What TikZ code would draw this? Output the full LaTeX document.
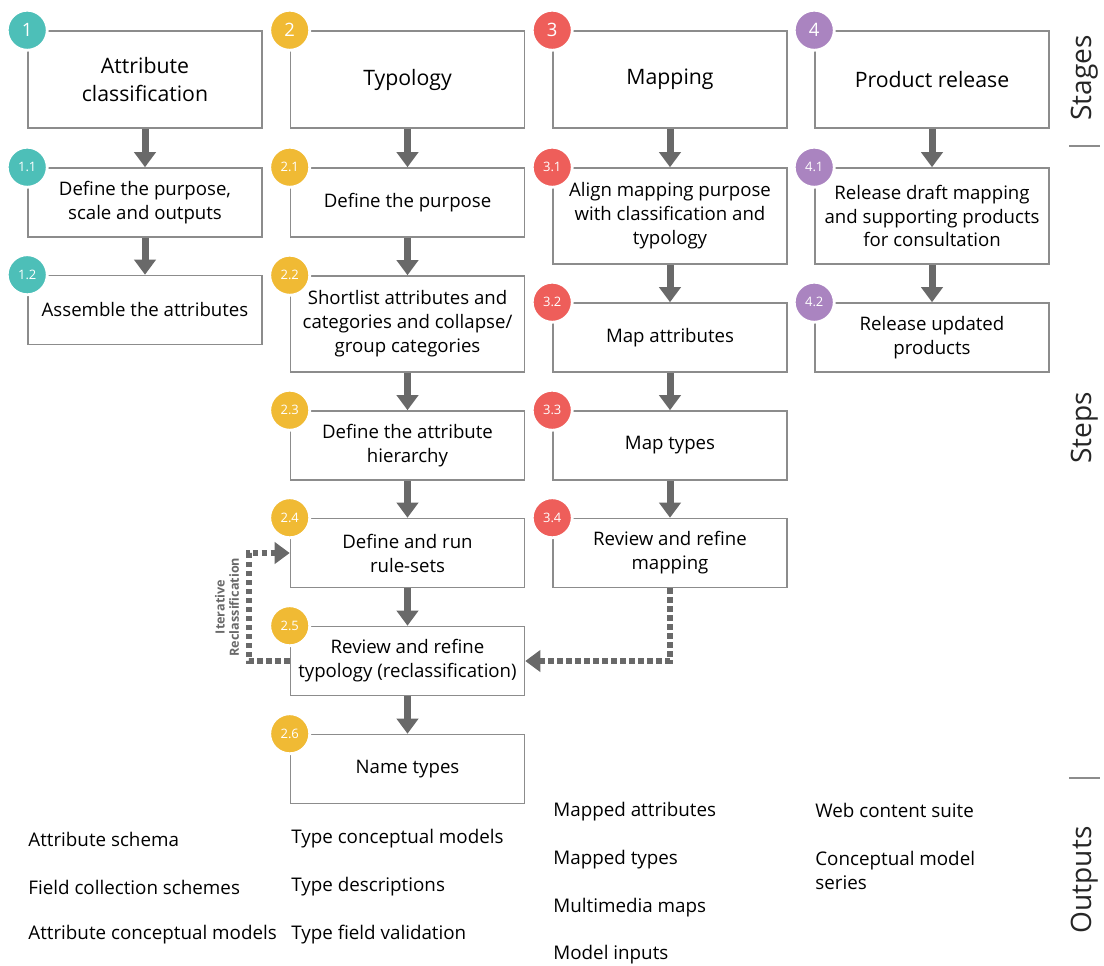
\documentclass[tikz,border=0pt]{standalone}
\usepackage{fontspec}
\setmainfont{Open Sans}
\usepackage{tikz}
\usetikzlibrary{arrows.meta, positioning}
\definecolor{clteal}{RGB}{77,191,184}
\definecolor{clyellow}{RGB}{240,186,52}
\definecolor{clred}{RGB}{238,94,90}
\definecolor{clpurple}{RGB}{170,132,192}
\definecolor{boxgray}{RGB}{140,140,140}
\definecolor{arrowgray}{RGB}{105,105,105}

\begin{document}
\begin{tikzpicture}[
    x=0.02cm, y=-0.02cm,
    stage node/.style={rectangle,draw=boxgray,line width=0.9pt,fill=white,minimum width=4.68cm,minimum height=1.94cm,align=center,font=\fontsize{12.1}{15.9}\selectfont},
    step node/.style={rectangle,draw=boxgray,line width=0.9pt,fill=white,minimum width=4.68cm,minimum height=1.38cm,align=center,font=\fontsize{10.6}{13.6}\selectfont},
    tall node/.style={step node,minimum height=1.92cm},
    badge/.style={circle,fill=#1,draw=white,line width=1.6pt,minimum size=0.8cm,inner sep=0pt,text=white,font=\fontsize{10.5}{12}\selectfont},
    sub badge/.style={badge=#1,font=\fontsize{7.4}{9}\selectfont},
    output node/.style={anchor=west,inner sep=0pt,align=left,font=\fontsize{10.7}{13.6}\selectfont},
    side label/.style={rotate=90,inner sep=0pt,font=\fontsize{16}{18}\selectfont,text=black!85},
    arrow/.style={-{Triangle[length=0.3cm,width=0.42cm]},line width=0.14cm,draw=arrowgray},
    loop arrow/.style={arrow,line width=0.12cm,dash pattern=on 0.11cm off 0.07cm}
]
\useasboundingbox (0,0) rectangle (1104,965);

% Stages
\node[stage node] (s1) at (145,79.5) {Attribute\\classification};
\node[stage node] (s2) at (407.5,79.5) {Typology};
\node[stage node] (s3) at (670,79.5) {Mapping};
\node[stage node] (s4) at (932,79.5) {Product release};

% Steps: attribute classification
\node[step node] (b11) at (145,202.5) {Define the purpose,\\scale and outputs};
\node[step node] (b12) at (145,310) {Assemble the attributes};

% Steps: typology
\node[step node] (b21) at (407.5,202.5) {Define the purpose};
\node[tall node] (b22) at (407.5,324) {Shortlist attributes and\\categories and collapse/\\group categories};
\node[step node] (b23) at (407.5,445.5) {Define the attribute\\hierarchy};
\node[step node] (b24) at (407.5,553) {Define and run\\rule-sets};
\node[step node] (b25) at (407.5,661) {Review and refine\\typology (reclassification)};
\node[step node] (b26) at (407.5,769) {Name types};

% Steps: mapping
\node[tall node] (b31) at (670,216) {Align mapping purpose\\with classification and\\typology};
\node[step node] (b32) at (670,337.5) {Map attributes};
\node[step node] (b33) at (670,445.5) {Map types};
\node[step node] (b34) at (670,553) {Review and refine\\mapping};

% Steps: product release
\node[tall node] (b41) at (932,216) {Release draft mapping\\and supporting products\\for consultation};
\node[step node] (b42) at (932,337.5) {Release updated\\products};

% Badges
\node[badge=clteal] (n1) at (s1.north west) {1};
\node[badge=clyellow] (n2) at (s2.north west) {2};
\node[badge=clred] (n3) at (s3.north west) {3};
\node[badge=clpurple] (n4) at (s4.north west) {4};
\node[sub badge=clteal] (n11) at (b11.north west) {1.1};
\node[sub badge=clteal] (n12) at (b12.north west) {1.2};
\node[sub badge=clyellow] (n21) at (b21.north west) {2.1};
\node[sub badge=clyellow] (n22) at (b22.north west) {2.2};
\node[sub badge=clyellow] (n23) at (b23.north west) {2.3};
\node[sub badge=clyellow] (n24) at (b24.north west) {2.4};
\node[sub badge=clyellow] (n25) at (b25.north west) {2.5};
\node[sub badge=clyellow] (n26) at (b26.north west) {2.6};
\node[sub badge=clred] (n31) at (b31.north west) {3.1};
\node[sub badge=clred] (n32) at (b32.north west) {3.2};
\node[sub badge=clred] (n33) at (b33.north west) {3.3};
\node[sub badge=clred] (n34) at (b34.north west) {3.4};
\node[sub badge=clpurple] (n41) at (b41.north west) {4.1};
\node[sub badge=clpurple] (n42) at (b42.north west) {4.2};

% Arrows
\draw[arrow] (s1) -- (b11);
\draw[arrow] (b11) -- (b12);
\draw[arrow] (s2) -- (b21);
\draw[arrow] (b21) -- (b22);
\draw[arrow] (b22) -- (b23);
\draw[arrow] (b23) -- (b24);
\draw[arrow] (b24) -- (b25);
\draw[arrow] (b25) -- (b26);
\draw[arrow] (s3) -- (b31);
\draw[arrow] (b31) -- (b32);
\draw[arrow] (b32) -- (b33);
\draw[arrow] (b33) -- (b34);
\draw[arrow] (s4) -- (b41);
\draw[arrow] (b41) -- (b42);

% Feedback loops
\draw[loop arrow] (b25.west) -- ++(-41,0) |- (b24.west);
\draw[loop arrow] (b34.south) |- (b25.east);
\node[rotate=90,align=center,text=arrowgray,font=\fontsize{7.2}{8}\selectfont\bfseries] (iter) at (227,607) {Iterative\\Reclassification};

% Outputs
\node[output node] (o11) at (28,839) {Attribute schema};
\node[output node] (o12) at (28,887) {Field collection schemes};
\node[output node] (o13) at (28,935) {Attribute conceptual models};
\node[output node] (o21) at (291,839) {Type conceptual models};
\node[output node] (o22) at (291,887) {Type descriptions};
\node[output node] (o23) at (291,935) {Type field validation};
\node[output node] (o31) at (553,812) {Mapped attributes};
\node[output node] (o32) at (553,860) {Mapped types};
\node[output node] (o33) at (553,908) {Multimedia maps};
\node[output node] (o34) at (553,955) {Model inputs};
\node[output node] (o41) at (815,810) {Web content suite};
\node[output node] (o42) at (815,870) {Conceptual model\\series};

% Side labels
\node[side label] (lstages) at (1085,78) {Stages};
\node[side label] (lsteps) at (1085,428) {Steps};
\node[side label] (loutputs) at (1085,880) {Outputs};
\draw[boxgray,line width=1.2pt] (1069,146) -- (1100,146);
\draw[boxgray,line width=1.2pt] (1069,778) -- (1100,778);

\end{tikzpicture}
\end{document}
